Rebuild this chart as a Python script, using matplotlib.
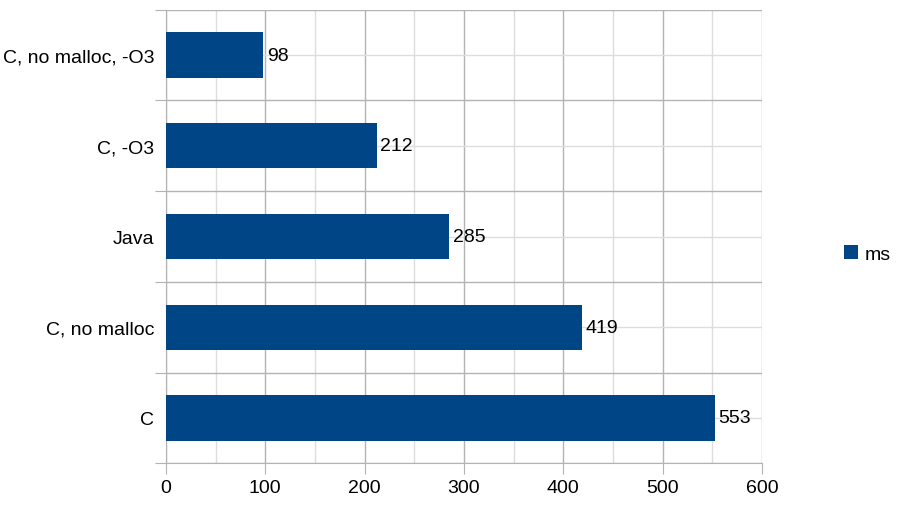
import matplotlib
matplotlib.use("Agg")
import matplotlib.pyplot as plt
import numpy as np

# bottom to top, as drawn
categories = ["C", "C, no malloc", "Java", "C, -O3", "C, no malloc, -O3"]
ms = [553, 419, 285, 212, 98]
series_name = "ms"

bar_color = "#004586"
major_grid = "#b3b3b3"
minor_grid = "#dddddd"

plt.rcParams["font.family"] = ["Liberation Sans", "DejaVu Sans"]
plt.rcParams["font.size"] = 14

fig = plt.figure(figsize=(9.07, 5.10), dpi=100)
ax = fig.add_axes([0.183, 0.0896, 0.657, 0.8894])

pos = np.arange(len(categories))
bars = ax.barh(pos, ms, height=0.5, color=bar_color, label=series_name, zorder=3)
for b, v in zip(bars, ms):
    ax.text(b.get_width() + 3.5, b.get_y() + b.get_height() / 2, str(v),
            va="center", ha="left", fontsize=14, zorder=4)

ax.set_xlim(0, 600)
ax.set_ylim(-0.5, len(categories) - 0.5)

# x axis: labelled ticks every 100, light grid every 50
ax.set_xticks(np.arange(0, 601, 100))
ax.set_xticks(np.arange(50, 600, 100), minor=True)
ax.tick_params(axis="x", which="major", length=8, color=major_grid, pad=3)
ax.tick_params(axis="x", which="minor", length=0)

# y axis: ticks on category boundaries, labels at centers
ax.set_yticks(np.arange(-0.5, len(categories), 1.0))
ax.set_yticklabels([])
ax.set_yticks(pos, minor=True)
ax.set_yticklabels(categories, minor=True)
ax.tick_params(axis="y", which="major", length=8, color=major_grid)
ax.tick_params(axis="y", which="minor", length=0, pad=8.5)

ax.grid(True, which="major", color=major_grid, linewidth=1, zorder=0)
ax.grid(True, which="minor", color=minor_grid, linewidth=1, zorder=0)
ax.set_axisbelow(True)

for side in ["top", "right"]:
    ax.spines[side].set_visible(False)
for side in ["left", "bottom"]:
    ax.spines[side].set_color(major_grid)

fig.legend(handles=[bars], labels=[series_name], loc="center left",
           bbox_to_anchor=(0.931, 0.5), frameon=False, handlelength=0.7,
           handleheight=0.7, handletextpad=0.35, borderpad=0, borderaxespad=0,
           fontsize=14)

fig.savefig("out.png", dpi=100)
